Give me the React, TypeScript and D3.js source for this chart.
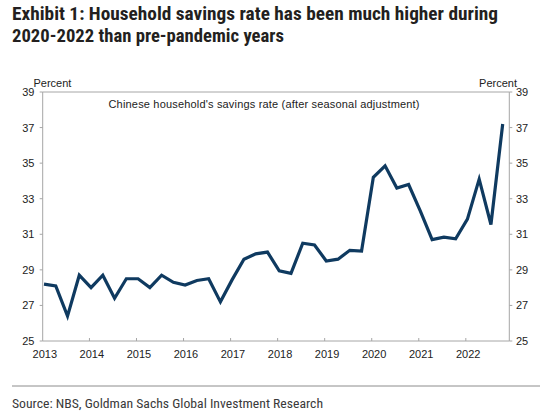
import React from "react";
import * as d3 from "d3";

const years = ["2013", "2014", "2015", "2016", "2017", "2018", "2019", "2020", "2021", "2022"];
const quarters = ["Q1", "Q2", "Q3", "Q4"];
const savingsRate = [
  28.2, 28.1, 26.4, 28.7,
  28.0, 28.7, 27.4, 28.5,
  28.5, 28.0, 28.7, 28.3,
  28.15, 28.4, 28.5, 27.2,
  28.45, 29.6, 29.9, 30.0,
  28.95, 28.8, 30.5, 30.4,
  29.5, 29.6, 30.1, 30.06,
  34.2, 34.85, 33.6, 33.8,
  32.3, 30.7, 30.84, 30.75,
  31.85, 34.1, 31.55, 37.2,
];
const yTicks = [25, 27, 29, 31, 33, 35, 37, 39];

const titleLines = [
  "Exhibit 1: Household savings rate has been much higher during",
  "2020-2022 than pre-pandemic years",
];
const seriesLabel = "Chinese household's savings rate (after seasonal adjustment)";
const axisTitle = "Percent";
const sourceText = "Source: NBS, Goldman Sachs Global Investment Research";

export default function App() {
  const W = 545;
  const H = 417;
  const points = years.flatMap((y, yi) => quarters.map((q, qi) => ({ idx: yi * 4 + qi, v: savingsRate[yi * 4 + qi] })));

  const x = d3.scaleLinear().domain([0, points.length - 1]).range([44, 502.7]);
  const y = d3.scaleLinear().domain([25, 39]).range([341, 92]);

  const left = 42.7;
  const right = 509.3;
  const top = y(39);
  const bottom = y(25);

  const line = d3
    .line<{ idx: number; v: number }>()
    .x((d) => x(d.idx))
    .y((d) => y(d.v))
    .curve(d3.curveLinear);

  const axisColor = "#a6a6a6";
  const font = "'Liberation Sans', Arial, sans-serif";
  const condensed = "'Liberation Sans Narrow', 'Roboto Condensed', 'DejaVu Sans Condensed', 'Liberation Sans', sans-serif";

  return (
    <div style={{ position: "absolute", left: 0, top: 0, width: W, height: H, background: "#fff" }}>
      <svg width={W} height={H} viewBox={`0 0 ${W} ${H}`} style={{ display: "block" }}>
        <rect x={0} y={0} width={W} height={H} fill="#fff" />
        {/* Title */}
        <text x={12} y={20} fontFamily={condensed} fontWeight="bold" fontSize={18.5} fill="#231f20"
          textLength={486} lengthAdjust="spacingAndGlyphs">{titleLines[0]}</text>
        <text x={12} y={41.7} fontFamily={condensed} fontWeight="bold" fontSize={18.5} fill="#231f20"
          textLength={272} lengthAdjust="spacingAndGlyphs">{titleLines[1]}</text>

        {/* Frame */}
        <line x1={left} x2={right} y1={top} y2={top} stroke={axisColor} strokeWidth={1} />
        <line x1={left} x2={left} y1={top} y2={bottom} stroke={axisColor} strokeWidth={1} />
        <line x1={right} x2={right} y1={top} y2={bottom} stroke={axisColor} strokeWidth={1} />
        <line x1={left} x2={right} y1={bottom} y2={bottom} stroke={axisColor} strokeWidth={1} />

        {/* Y ticks & labels */}
        {yTicks.map((t) => (
          <g key={t}>
            <line x1={left - 3} x2={left} y1={y(t)} y2={y(t)} stroke={axisColor} />
            <line x1={right} x2={right + 3} y1={y(t)} y2={y(t)} stroke={axisColor} />
            <text x={34.5} y={y(t) + 4} textAnchor="end" fontFamily={font} fontSize={11} fill="#222">{t}</text>
            <text x={516} y={y(t) + 4} textAnchor="start" fontFamily={font} fontSize={11} fill="#222">{t}</text>
          </g>
        ))}
        <text x={33.5} y={87} fontFamily={font} fontSize={11} fill="#222">{axisTitle}</text>
        <text x={517} y={87} textAnchor="end" fontFamily={font} fontSize={11} fill="#222">{axisTitle}</text>

        {/* X ticks & labels */}
        {years.map((yr, i) => (
          <g key={yr}>
            {i > 0 && <line x1={x(i * 4) - 1.6} x2={x(i * 4) - 1.6} y1={bottom - 3} y2={bottom} stroke={axisColor} />}
            <text x={x(i * 4) + 0.8} y={358} textAnchor="middle" fontFamily={font} fontSize={11} fill="#222">{yr}</text>
          </g>
        ))}

        {/* Series label */}
        <text x={108.5} y={107.5} fontFamily={font} fontSize={11} fill="#222"
          textLength={311} lengthAdjust="spacing">{seriesLabel}</text>

        {/* Line */}
        <path d={line(points) || ""} fill="none" stroke="#0f3a60" strokeWidth={3.2} strokeLinejoin="miter" />

        {/* Source */}
        <line x1={12} x2={540} y1={386} y2={386} stroke="#8c8c8c" strokeWidth={1} />
        <text x={12} y={407.5} fontFamily={condensed} fontSize={13} fill="#3a3a3a"
          textLength={311} lengthAdjust="spacingAndGlyphs">{sourceText}</text>
      </svg>
    </div>
  );
}
